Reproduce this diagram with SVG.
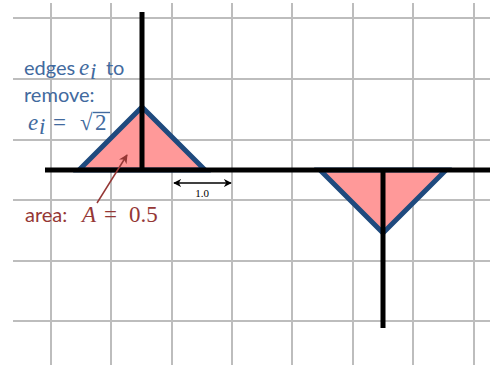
<svg xmlns="http://www.w3.org/2000/svg" width="490" height="367" viewBox="0 0 490 367">
<defs>
<style>
.grid{stroke:#bdbdbd;stroke-width:2;fill:none}
.axis{stroke:#000;stroke-width:5;fill:none}
.tri{fill:#ff9999;stroke:#1f4a7e;stroke-width:5;stroke-linejoin:miter}
.blue{font-family:Lato,"Open Sans","Liberation Sans",sans-serif;font-size:20px;fill:#426a9e}
.red{font-family:Lato,"Open Sans","Liberation Sans",sans-serif;font-size:20px;fill:#953735}
.mi{font-family:"Liberation Serif",serif;font-style:italic;font-size:23px}
.mr{font-family:"Liberation Serif",serif;font-size:23px}
</style>
<marker id="ah" viewBox="0 0 10 10" refX="9" refY="5" markerWidth="8" markerHeight="8" markerUnits="userSpaceOnUse" orient="auto-start-reverse">
<path d="M0,0 L10,5 L0,10 L3,5 z" fill="#000"/>
</marker>
<marker id="ahr" viewBox="0 0 10 10" refX="9" refY="5" markerWidth="9" markerHeight="9" markerUnits="userSpaceOnUse" orient="auto">
<path d="M0,0 L10,5 L0,10 L3,5 z" fill="#953735"/>
</marker>
</defs>
<rect width="490" height="367" fill="#fff"/>
<g id="grid">
<path class="grid" d="M51,3V365M111,3V365M172,3V365M232,3V365M292,3V365M353,3V365M413,3V365M474,3V365"/>
<path class="grid" d="M13,18H490M13,79H490M13,140H490M13,200H490M13,261H490M13,321H490"/>
</g>
<g id="triangle-left"><polygon class="tri" points="79,170 142,107 205,170"/></g>
<g id="triangle-right"><polygon class="tri" points="320,170 383,233 446,170"/></g>
<g id="connectors">
<path class="axis" d="M45,170H490"/>
<path class="axis" d="M142,12V170"/>
<path class="axis" d="M383,170V328"/>
<path d="M174,183H231" stroke="#000" stroke-width="1.5" marker-start="url(#ah)" marker-end="url(#ah)"/>
<path d="M97,203L127,155" stroke="#953735" stroke-width="1.5" marker-end="url(#ahr)"/>
</g>
<g id="label-edges" fill="#426a9e">
<text class="blue" x="24" y="75">edges</text>
<text class="mi" x="79" y="75">e</text>
<text class="mi" x="90" y="79" font-size="15">i</text>
<text class="blue" x="106" y="75">to</text>
<text class="blue" x="24" y="102">remove:</text>
<text class="mi" x="28" y="130">e</text>
<text class="mi" x="39" y="134" font-size="15">i</text>
<text class="mr" x="53" y="130">=</text>
<text class="mr" x="80" y="130">√</text>
<text class="mr" x="95" y="130">2</text>
<path d="M93,112.5H110" stroke="#426a9e" stroke-width="1.4"/>
</g>
<g id="label-area" fill="#953735">
<text class="red" x="25" y="222">area:</text>
<text class="mi" x="82" y="222">A</text>
<text class="mr" x="104" y="222">=</text>
<text class="mr" x="129" y="222">0.5</text>
</g>
<g id="label-dim">
<text x="202" y="197" text-anchor="middle" font-family="Liberation Serif,serif" font-size="11" fill="#000">1.0</text>
</g>
</svg>
